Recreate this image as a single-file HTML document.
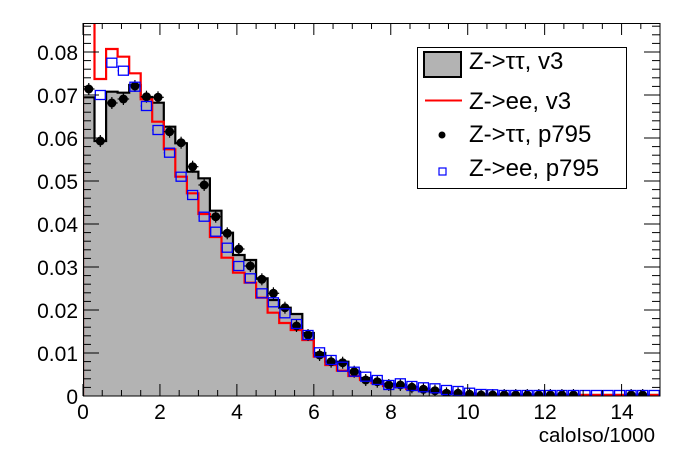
<!DOCTYPE html>
<html><head><meta charset="utf-8"><style>
html,body{margin:0;padding:0;background:#fff;}
svg{display:block;font-family:"Liberation Sans",Arial,sans-serif;}
</style></head><body>
<svg id="s" width="696" height="472" viewBox="0 0 696 472" xmlns="http://www.w3.org/2000/svg">
<defs><clipPath id="c"><rect x="83" y="23" width="577" height="373"/></clipPath></defs>
<g id="data" clip-path="url(#c)"></g>
<g id="axes"></g>
<g font-size="21" fill="#000" text-anchor="end">
<text x="78" y="60">0.08</text><text x="78" y="103">0.07</text><text x="78" y="146">0.06</text>
<text x="78" y="189">0.05</text><text x="78" y="232">0.04</text><text x="78" y="275">0.03</text>
<text x="78" y="318">0.02</text><text x="78" y="361">0.01</text><text x="78" y="404">0</text>
</g>
<g font-size="21" fill="#000" text-anchor="middle">
<text x="83" y="419">0</text><text x="160" y="419">2</text><text x="237" y="419">4</text>
<text x="314" y="419">6</text><text x="391" y="419">8</text><text x="468" y="419">10</text>
<text x="545" y="419">12</text><text x="622" y="419">14</text>
</g>
<text x="655" y="442" font-size="20.5" text-anchor="end">caloIso/1000</text>
<g>
<rect x="417.5" y="47.5" width="209" height="141" fill="#fff" stroke="#000" stroke-width="1"/>
<rect x="424" y="52" width="37" height="25" fill="#b3b3b3" stroke="#000" stroke-width="2"/>
<line x1="425" y1="100.5" x2="462" y2="100.5" stroke="#f00" stroke-width="2"/>
<circle cx="442" cy="135" r="3.5" fill="#000"/>
<rect x="439" y="168" width="7" height="7" fill="none" stroke="#00f" stroke-width="1.2"/>
<g font-size="24" fill="#000">
<text x="469" y="69">Z-&gt;ττ, v3</text>
<text x="469" y="109">Z-&gt;ee, v3</text>
<text x="469" y="142">Z-&gt;ττ, p795</text>
<text x="469" y="176">Z-&gt;ee, p795</text>
</g>
</g>
</svg>
<script>
var NS="http://www.w3.org/2000/svg";
var X0=83,W=11.54,Y0=396;
function el(t,a,p){var e=document.createElementNS(NS,t);for(var k in a)e.setAttribute(k,a[k]);p.appendChild(e);return e;}
var T15=[];for(var i=0;i<15;i++)T15.push(395);
var G=[97.3,141,91.7,92.7,85,97,102.7,126.7,143.3,171.7,178.3,210.7,232.7,255,260,278.3,300,307.7,314,333,353,361.7,361.7,371.7,378,381,384,385,387,389,390,392,393,394,394.5].concat(T15);
var R=[10,79,49,56.7,73.3,99.3,121.7,149.3,176.7,193.3,214,237,257.7,272.7,282.7,297.7,312.7,323,330,340,356.7,365,370.7,376,380,383,386,387,389,390,391,392,393,394,394.5].concat(T15);
var B=[89,141,103,99,86,96.7,97.3,131.7,142.7,166.7,185,216.7,233.3,249,266,279.3,293.3,307.7,326,335,355,361.7,362.7,371.7,380,381.7,385,385,387.3,389.3,390.7,393.3,393.3,394.3,395,395,395,395,395,395,395,395,395,null,null,null,null,395,395,null];
var U=[null,95,62.7,70.7,86.7,106,130,152.7,176.7,195,216.7,231.7,247.7,266,278.3,293.3,302.3,313.3,324,335,352.3,360,366.7,371.7,376.7,380,385,383.3,386,387.3,388.3,390,391,392.7,394,394.3].concat([395,395,395,395,395,395,395,395,395,395,395,395,395,395]);
function step(a){var d="M"+X0+","+Y0;for(var i=0;i<50;i++){var x1=X0+i*W,x2=x1+W;d+=" L"+x1.toFixed(1)+","+a[i]+" L"+x2.toFixed(1)+","+a[i];}d+=" L"+(X0+50*W).toFixed(1)+","+Y0;return d;}
var g=document.getElementById("data");
el("path",{d:step(G)+" Z",fill:"#b3b3b3",stroke:"none"},g);
el("path",{d:step(G),fill:"none",stroke:"#000","stroke-width":2.2},g);
el("path",{d:step(R),fill:"none",stroke:"#f00","stroke-width":2.2},g);
for(var i=0;i<50;i++){var cx=X0+(i+0.5)*W;
 if(B[i]!=null){el("line",{x1:cx-W/2,y1:B[i],x2:cx+W/2,y2:B[i],stroke:"#000","stroke-width":1.2},g);
  el("line",{x1:cx,y1:B[i]-6,x2:cx,y2:B[i]+6,stroke:"#000","stroke-width":1.2},g);
  el("circle",{cx:cx,cy:B[i],r:4.5,fill:"#000"},g);}
}
for(var i=0;i<50;i++){var cx=X0+(i+0.5)*W;
 if(U[i]!=null){el("rect",{x:cx-5,y:U[i]-4.5,width:10,height:9,fill:"none",stroke:"#00f","stroke-width":1.3},g);
  el("line",{x1:cx-W/2,y1:U[i],x2:cx-5,y2:U[i],stroke:"#00f","stroke-width":1.5},g);
  el("line",{x1:cx+5,y1:U[i],x2:cx+W/2,y2:U[i],stroke:"#00f","stroke-width":1.5},g);}
}
var a=document.getElementById("axes");
el("rect",{x:83.5,y:23.5,width:576.5,height:372.5,fill:"none",stroke:"#000","stroke-width":1},a);
var PX=38.47;
for(var v=0;v<=15.01;v+=0.5){var x=X0+v*PX;if(x>660)break;var maj=Math.abs(v/2-Math.round(v/2))<0.01;var L=maj?12:6;
 el("line",{x1:x,y1:396,x2:x,y2:396-L,stroke:"#000","stroke-width":1},a);
 el("line",{x1:x,y1:23,x2:x,y2:23+L,stroke:"#000","stroke-width":1},a);}
for(var k=0;k<=43;k++){var y=396-k*8.6;if(y<23)break;var maj=(k%5==0);var L=maj?16:8;
 el("line",{x1:83,y1:y,x2:83+L,y2:y,stroke:"#000","stroke-width":1},a);
 el("line",{x1:660,y1:y,x2:660-L,y2:y,stroke:"#000","stroke-width":1},a);}
</script>
</body></html>
